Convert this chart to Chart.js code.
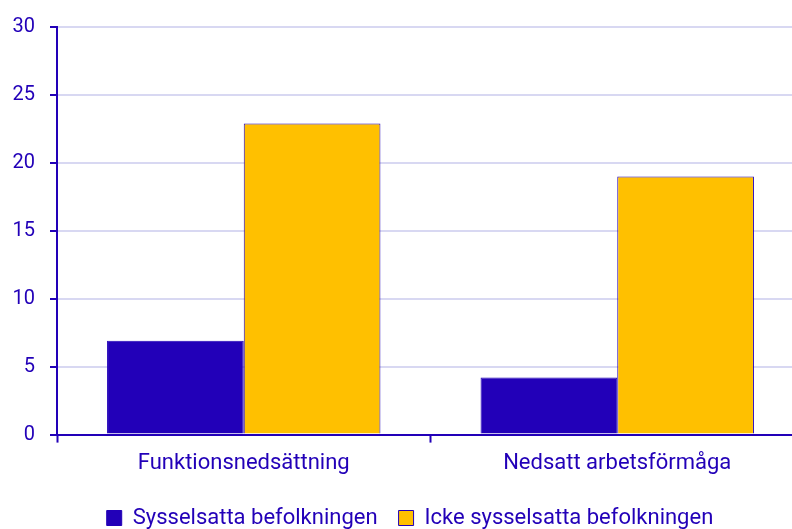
<!DOCTYPE html>
<html>
<head>
<meta charset="utf-8">
<script src="https://cdn.jsdelivr.net/npm/chart.js@4"></script>
<style>
  html, body { margin: 0; padding: 0; background: #fff; overflow: hidden; }
  #wrap { width: 792px; height: 529px; overflow: hidden; }
</style>
</head>
<body>
<div id="wrap"><canvas id="chart" width="804" height="529"></canvas></div>
<script>
// Kategorier och värden (procent)
const categories = ['Funktionsnedsättning', 'Nedsatt arbetsförmåga'];
const seriesNames = ['Sysselsatta befolkningen', 'Icke sysselsatta befolkningen'];
const sysselsatta = [6.9, 4.2];
const ickeSysselsatta = [22.9, 19.0];
const yTicks = [0, 5, 10, 15, 20, 25, 30];

const blue = '#2200b8';
const yellow = '#ffc000';
const gridColor = '#d8d8f2';
const legendShift = 2; // legenden ligger lite till höger om mitten

// flyttar legenden i sidled efter layout
const shiftLegend = {
    id: 'shiftLegend',
    afterLayout(chart) {
        if (chart.legend) {
            chart.legend.left += legendShift;
            chart.legend.right += legendShift;
        }
    }
};

const ctx = document.getElementById('chart').getContext('2d');
new Chart(ctx, {
    type: 'bar',
    data: {
        labels: categories,
        datasets: [
            {
                label: seriesNames[0],
                data: sysselsatta,
                backgroundColor: blue,
                borderColor: blue,
                borderWidth: 1
            },
            {
                label: seriesNames[1],
                data: ickeSysselsatta,
                backgroundColor: yellow,
                borderColor: blue,
                borderWidth: 1
            }
        ]
    },
    plugins: [shiftLegend],
    options: {
        responsive: false,
        animation: false,
        layout: { padding: { top: 12, left: 12, right: 0, bottom: -10 } },
        datasets: { bar: { categoryPercentage: 0.732, barPercentage: 1.0 } },
        plugins: {
            tooltip: { enabled: false },
            legend: {
                position: 'bottom',
                labels: {
                    color: blue,
                    font: { family: 'Roboto', size: 22 },
                    boxWidth: 15,
                    boxHeight: 15,
                    padding: 21
                }
            }
        },
        scales: {
            x: {
                afterFit: (scale) => { scale.height += 1; },
                grid: {
                    offset: true,
                    drawOnChartArea: false,
                    drawTicks: true,
                    tickLength: 8,
                    tickColor: blue,
                    tickWidth: 2
                },
                border: { color: blue, width: 2 },
                ticks: {
                    color: blue,
                    font: { family: 'Roboto', size: 22 },
                    padding: 8
                }
            },
            y: {
                min: 0,
                max: 30,
                afterBuildTicks: (scale) => { scale.ticks = yTicks.map(v => ({ value: v })); },
                afterFit: (scale) => { scale.width = 45; },
                grid: {
                    color: gridColor,
                    lineWidth: 2,
                    tickLength: 7,
                    tickColor: blue,
                    tickWidth: 2
                },
                border: { color: blue, width: 2 },
                ticks: {
                    color: blue,
                    font: { family: 'Roboto', size: 20 },
                    padding: 15
                }
            }
        }
    }
});
</script>
</body>
</html>
